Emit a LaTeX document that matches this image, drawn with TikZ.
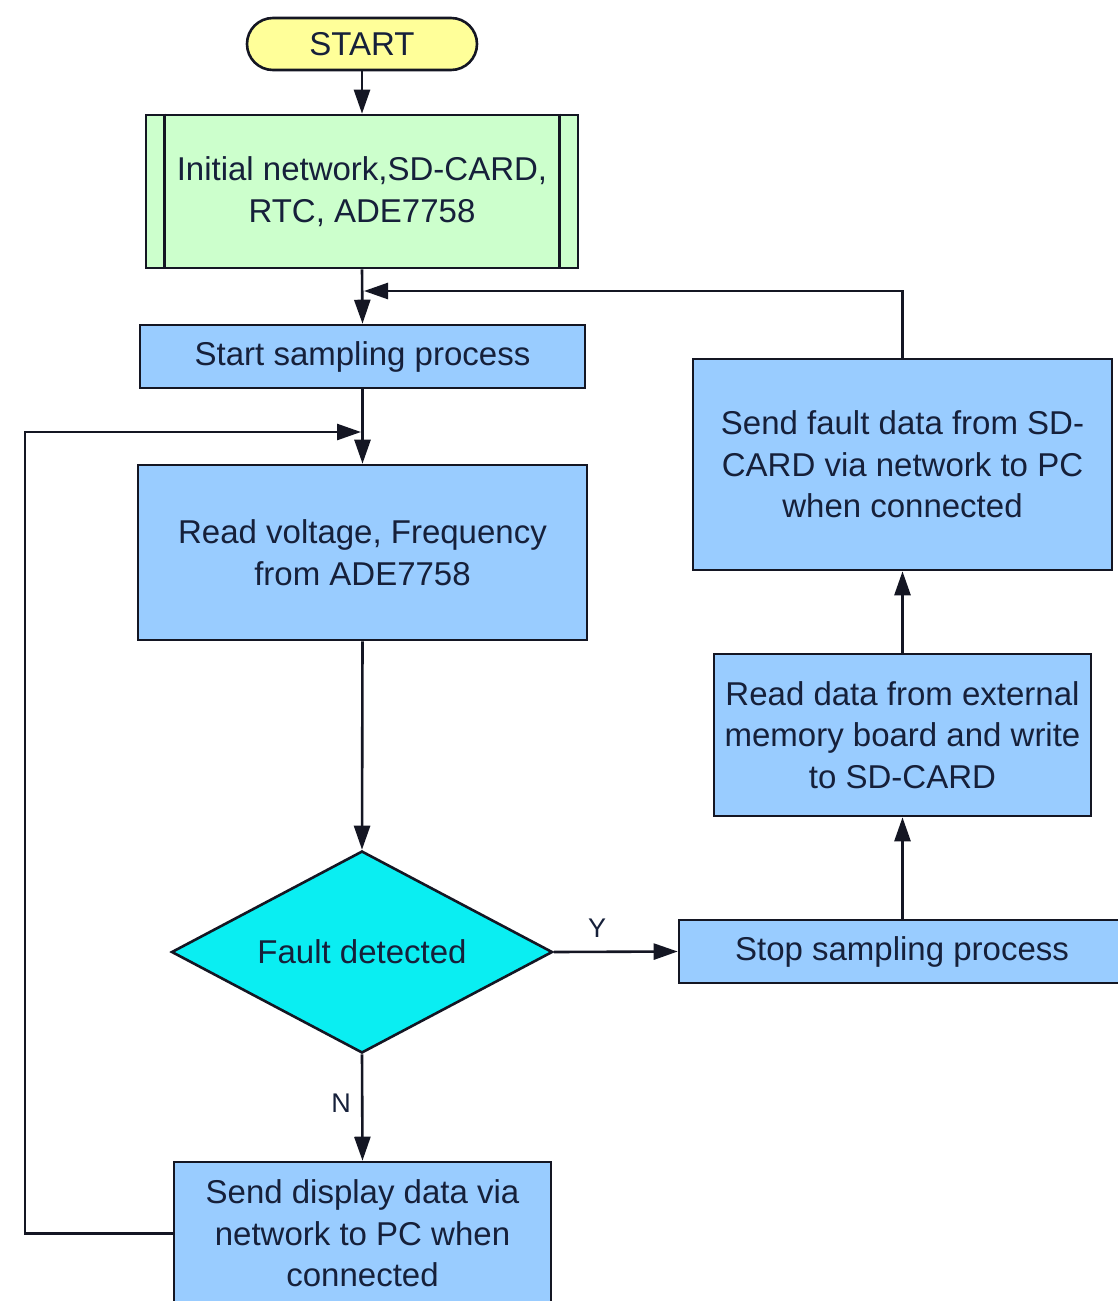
\documentclass[tikz,border=0pt]{standalone}
\usepackage{fontspec}
\setmainfont{Liberation Sans}
\usetikzlibrary{arrows.meta,shapes.geometric}
\definecolor{boxblue}{RGB}{153,204,255}
\definecolor{boxgreen}{RGB}{204,255,204}
\definecolor{boxyellow}{RGB}{255,255,153}
\definecolor{boxcyan}{RGB}{10,238,242}
\definecolor{txt}{RGB}{22,32,58}
\definecolor{edge}{RGB}{20,22,35}
\begin{document}
\begin{tikzpicture}[x=1pt,y=-1pt,
  base/.style={draw=edge,line width=2.6pt,align=center,inner sep=0pt,
    text=txt,font=\fontsize{33}{41.5}\selectfont},
  startn/.style={base,fill=boxyellow,rounded corners=26pt,minimum width=230pt,minimum height=52pt},
  initbox/.style={base,fill=boxgreen,minimum width=432pt,minimum height=153pt},
  proc/.style={base,fill=boxblue},
  dec/.style={base,fill=boxcyan,diamond,aspect=1.9,minimum width=381pt,minimum height=202pt},
  conn/.style={draw=edge,line width=2.6pt},
  arr/.style={conn,-{Triangle[length=24pt,width=16pt]}},
  lbl/.style={text=txt,font=\fontsize{27}{32}\selectfont,inner sep=0pt}]
\useasboundingbox (0,0) rectangle (1117,1301);
\fill[white] (0,0) rectangle (1117,1301);

\node[startn] (start) at (362,44) {START};
\node[initbox] (init) at (362,191.5) {Initial network,SD-CARD,\\RTC, ADE7758};
\draw[conn] ([xshift=20pt]init.north west) -- ([xshift=20pt]init.south west);
\draw[conn] ([xshift=-20pt]init.north east) -- ([xshift=-20pt]init.south east);
\node[proc,minimum width=445pt,minimum height=63pt] (samp) at (362.5,356.5) {Start sampling process};
\node[proc,minimum width=449pt,minimum height=175pt] (read) at (362.5,552.5) {Read voltage, Frequency\\from ADE7758};
\node[dec] (fault) at (362,952) {Fault detected};
\node[proc,minimum width=446pt,minimum height=63pt] (stop) at (902,951.5) {Stop sampling process};
\node[proc,minimum width=377pt,minimum height=162pt] (readx) at (902.5,735) {Read data from external\\memory board and write\\to SD-CARD};
\node[proc,minimum width=419pt,minimum height=211pt] (sendf) at (902.5,464.5) {Send fault data from SD-\\CARD via network to PC\\when connected};
\node[proc,minimum width=377pt,minimum height=143pt] (sendd) at (362.5,1233.5) {Send display data via\\network to PC when\\connected};

\coordinate (j1) at (364,291);
\coordinate (lp) at (25,432);
\coordinate (mp) at (361,432);

\draw[arr] (start.south) -- (init.north);
\draw[arr] (init.south) -- (samp.north);
\draw[arr] (sendf.north) |- (j1);
\draw[arr] (samp.south) -- (read.north);
\draw[arr] (sendd.west) -| (lp) -- (mp);
\draw[arr] (read.south) -- (fault.north);
\draw[arr] (fault.east) -- (stop.west);
\draw[arr] (fault.south) -- (sendd.north);
\draw[arr] (stop.north -| readx.south) -- (readx.south);
\draw[arr] (readx.north) -- (sendf.south);

\node[lbl] (ylab) at (597,928) {Y};
\node[lbl] (nlab) at (341,1103) {N};
\end{tikzpicture}
\end{document}
